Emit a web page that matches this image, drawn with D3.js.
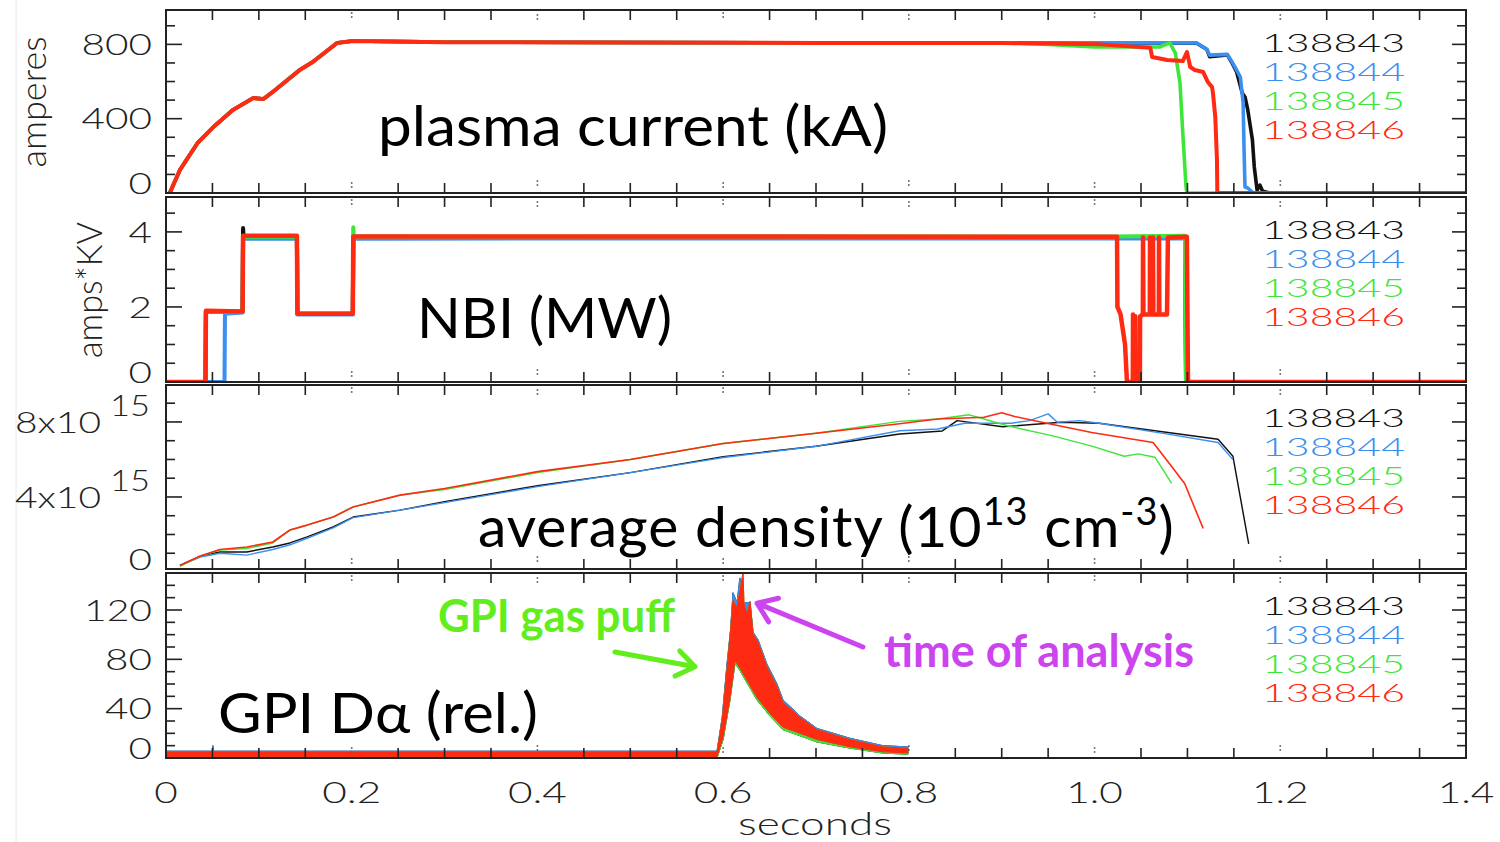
<!DOCTYPE html>
<html>
<head>
<meta charset="utf-8">
<script src="https://cdn.jsdelivr.net/npm/d3@7"></script>
<style>
  body { margin: 0; background: #fff; }
  svg { display: block; }
  .num { font-family: Lato, 'DejaVu Sans', sans-serif; font-weight: 300; font-size: 30px; }
  .big { font-family: Lato, 'Open Sans', sans-serif; font-size: 57px; fill: #000; }
  .note { font-family: Lato, 'Open Sans', sans-serif; font-weight: 700; font-size: 46px; }
</style>
</head>
<body>
<svg id="chart"></svg>
<script>
const shots = ['138843', '138844', '138845', '138846'];
const shotColors = ['#111111', '#3b8ff0', '#3ee63a', '#ff2a12'];

const xTicks = [0, 0.2, 0.4, 0.6, 0.8, 1.0, 1.2, 1.4];
const xTickLabels = ['0', '0.2', '0.4', '0.6', '0.8', '1.0', '1.2', '1.4'];

// plasma current [s, A-axis units]
const ipRamp = [[0.004,0],[0.015,124],[0.034,269],[0.051,355],[0.072,447],[0.094,511],[0.105,506],[0.115,544],
  [0.144,662],[0.158,705],[0.184,807],[0.201,818],[0.3,812],[0.5,810],[0.7,808],[0.9,808]];
const ipEnd843 = [[1.0,807],[1.11,806],[1.121,772],[1.124,733],[1.143,743],[1.148,700],[1.153,651],[1.159,538],
  [1.162,517],[1.165,447],[1.17,285],[1.172,140],[1.175,16],[1.178,43],[1.181,10],[1.189,0],[1.4,0]];
const ipEnd844 = [[1.0,808],[1.11,808],[1.121,772],[1.124,742],[1.143,746],[1.148,706],[1.153,662],[1.157,624],
  [1.16,484],[1.161,231],[1.162,32],[1.165,27],[1.171,0],[1.4,0]];
const ipEnd845 = [[0.95,800],[1.0,786],[1.07,786],[1.081,808],[1.087,753],[1.092,592],[1.095,323],[1.0985,32],
  [1.0995,0],[1.4,0]];
const ipEnd846 = [[1.006,800],[1.06,782],[1.062,732],[1.078,716],[1.095,710],[1.0995,759],[1.103,678],[1.108,662],
  [1.117,651],[1.122,597],[1.1265,570],[1.1275,538],[1.13,409],[1.1318,178],[1.1322,0],[1.4,0]];
const ipTicks = [0, 400, 800];

// NBI [s, amps*KV]
const nbiStart843 = [[0,0],[0.0425,0],[0.043,1.87],[0.0825,1.87],[0.083,4.1],[0.0835,3.87],[0.141,3.87],
  [0.1415,1.82],[0.2012,1.82],[0.2017,3.87]];
const nbiStart844 = [[0,0],[0.063,0],[0.0635,1.82],[0.0825,1.85],[0.083,3.82],[0.141,3.82],[0.1415,1.8],
  [0.2012,1.8],[0.2017,3.82]];
const nbiStart845 = [[0,0],[0.0425,0],[0.043,1.87],[0.0825,1.87],[0.083,3.87],[0.141,3.87],[0.1415,1.82],
  [0.2012,1.82],[0.2017,4.12],[0.2022,3.87]];
const nbiStart846 = [[0,0],[0.0425,0],[0.043,1.9],[0.0825,1.88],[0.083,3.9],[0.141,3.9],[0.1415,1.82],
  [0.2012,1.82],[0.2017,3.88]];
const nbiEnd843 = [[1.0974,3.85],[1.0985,0],[1.4,0]];
const nbiEnd844 = [[1.0974,3.83],[1.0985,0],[1.4,0]];
const nbiEnd845 = [[1.02,3.88],[1.0974,3.9],[1.0985,0],[1.4,0]];
const nbiEnd846 = [[1.0242,3.87],[1.0246,2.0],[1.028,1.8],[1.0328,1.0],[1.0349,0],[1.0412,0],[1.0414,1.8],
  [1.0418,0],[1.0436,0],[1.0438,1.75],[1.0442,0],[1.0488,0],[1.049,1.75],[1.052,1.8],[1.0522,3.85],
  [1.0526,1.8],[1.0595,1.8],[1.0597,3.85],[1.0601,1.8],[1.0627,1.8],[1.0629,3.85],[1.0633,1.8],
  [1.0692,1.8],[1.0694,3.85],[1.0698,1.8],[1.078,1.8],[1.079,3.85],[1.0994,3.87],[1.1006,0],[1.4,0]];
const nbiTicks = [0, 2, 4];

// line-average density [s, 1e15]
const ne843 = [[0.015,0.35],[0.037,0.85],[0.058,1.07],[0.087,1.07],[0.115,1.33],[0.1335,1.55],[0.152,1.87],
  [0.18,2.4],[0.2015,2.93],[0.252,3.3],[0.3,3.75],[0.4,4.6],[0.5,5.3],[0.6,6.15],[0.7,6.7],[0.79,7.36],
  [0.836,7.52],[0.852,8.07],[0.901,7.74],[0.964,7.98],[1.005,7.93],[1.079,7.44],[1.133,7.08],[1.149,6.17],[1.166,1.5]];
const ne844 = [[0.015,0.35],[0.037,0.8],[0.058,1.0],[0.087,0.9],[0.115,1.2],[0.1335,1.45],[0.152,1.8],
  [0.18,2.35],[0.2015,2.9],[0.252,3.3],[0.3,3.7],[0.4,4.55],[0.5,5.3],[0.6,6.1],[0.7,6.7],[0.79,7.53],
  [0.831,7.62],[0.86,7.93],[0.91,7.93],[0.93,8.07],[0.95,8.43],[0.96,7.98],[0.984,8.07],[1.005,7.93],
  [1.079,7.35],[1.133,6.9],[1.149,5.99]];
const ne845 = [[0.015,0.3],[0.037,0.85],[0.058,1.17],[0.087,1.25],[0.115,1.55],[0.1335,2.24],[0.152,2.5],
  [0.18,2.93],[0.2015,3.47],[0.252,4.1],[0.3,4.4],[0.4,5.3],[0.5,6.0],[0.6,6.85],[0.7,7.4],[0.79,8.03],
  [0.831,8.16],[0.865,8.38],[0.881,8.16],[0.906,7.8],[0.955,7.26],[0.997,6.71],[1.032,6.17],[1.047,6.3],
  [1.065,6.12],[1.083,4.72]];
const ne846 = [[0.015,0.35],[0.037,0.85],[0.058,1.2],[0.087,1.33],[0.115,1.6],[0.1335,2.24],[0.152,2.5],
  [0.18,2.93],[0.2015,3.47],[0.252,4.1],[0.3,4.45],[0.4,5.35],[0.5,6.0],[0.6,6.85],[0.7,7.4],[0.79,7.9],
  [0.831,8.16],[0.881,8.25],[0.9,8.49],[0.914,8.29],[0.951,7.9],[0.997,7.44],[1.063,6.9],[1.083,5.63],
  [1.097,4.72],[1.117,2.32]];
const neTicks = [0, 4, 8];

// GPI D-alpha envelopes [s, rel.]
const gpiOuterUpper = [[0,5.5],[0.05,5.5],[0.0505,10],[0.051,5.5],[0.5934,5.5],[0.599,33],[0.604,75],[0.608,104],
  [0.6106,134],[0.615,126],[0.618,146],[0.621,126],[0.629,126],[0.6322,102],[0.6375,96],[0.6472,76],[0.658,60],
  [0.6645,47],[0.6828,34],[0.701,24],[0.7366,16],[0.772,10],[0.799,9]];
const gpiOuterLower = [[0,0],[0.5934,0],[0.6,15],[0.6074,47],[0.6128,77],[0.618,71],[0.6257,61],[0.6365,47],
  [0.6505,34],[0.6645,23],[0.701,13],[0.7366,8],[0.772,4],[0.799,3]];
const gpiRedUpper = [[0,5],[0.5934,5],[0.599,31],[0.604,71],[0.6074,98],[0.6106,128],[0.6149,122],[0.6214,150],
  [0.6225,125],[0.6257,117],[0.629,127],[0.6322,101],[0.6375,94],[0.6472,74],[0.658,58],[0.6645,45],
  [0.6828,33],[0.701,23],[0.7366,15],[0.772,9],[0.799,8]];
const gpiRedLower = [[0,1],[0.5934,1],[0.6,17],[0.6074,49],[0.6128,79],[0.618,73],[0.6257,63],[0.6365,49],
  [0.6505,36],[0.6645,25],[0.701,15],[0.7366,9],[0.772,5],[0.799,4]];
const gpiTicks = [0, 40, 80, 120];

// annotation arrows in data units of the GPI panel [s, rel.]
const puffArrow = [[0.4835, 86], [0.5697, 74]];
const analysisArrow = [[0.7505, 90], [0.6365, 125.5]];

const width = 1500, height = 842;
const svg = d3.select('#chart').attr('width', width).attr('height', height);

const x = d3.scaleLinear().domain([0, 1.4]).range([166, 1466]);

const panels = [
  { top: 10, bottom: 193, domain: [0, 985], major: ipTicks, minor: 100, kind: 'line', sw: 4,
    series: [ipRamp.concat(ipEnd843), ipRamp.concat(ipEnd844), ipRamp.concat(ipEnd845), ipRamp.concat(ipEnd846)] },
  { top: 197, bottom: 382, domain: [0, 4.93], major: nbiTicks, minor: 0.5, kind: 'line', sw: 4.5,
    series: [nbiStart843.concat(nbiEnd843), nbiStart844.concat(nbiEnd844),
             nbiStart845.concat(nbiEnd845), nbiStart846.concat(nbiEnd846)] },
  { top: 385, bottom: 569, domain: [0.16, 9.97], major: neTicks, minor: 1, kind: 'line', sw: 1.6, sup: '15',
    series: [ne843, ne844, ne845, ne846] },
  { top: 573, bottom: 758, domain: [0, 150], major: gpiTicks, minor: 10, kind: 'band',
    series: [[gpiOuterUpper, gpiOuterLower], [gpiOuterUpper, gpiRedLower],
             [gpiRedUpper, gpiOuterLower], [gpiRedUpper, gpiRedLower]] }
];

// Hershey-like widths for the thin IDL numbers
function numWidth(s) {
  let w = 0;
  for (const c of s) w += c === '.' ? 12 : c === 'x' ? 18 : c === '1' ? 21 : 23.5;
  return w;
}

// faint edge of the pasted picture
svg.append('line').attr('x1', 16).attr('x2', 16).attr('y1', 0).attr('y2', height)
  .attr('stroke', '#eeeeee').attr('stroke-width', 1.5);

panels.forEach((p, pi) => {
  const y = d3.scaleLinear().domain(p.domain).range([p.bottom, p.top]);
  const g = svg.append('g');
  const clipId = 'clip' + pi;
  svg.append('clipPath').attr('id', clipId).append('rect')
    .attr('x', x(0)).attr('y', p.top).attr('width', x(1.4) - x(0)).attr('height', p.bottom - p.top);

  const plot = g.append('g').attr('clip-path', `url(#${clipId})`);
  const line = d3.line().x(d => x(d[0])).y(d => y(d[1]));

  p.series.forEach((s, i) => {
    if (p.kind === 'band') {
      const pts = s[0].concat(s[1].slice().reverse());
      plot.append('path').attr('d', line(pts) + 'Z')
        .attr('fill', shotColors[i]).attr('stroke', shotColors[i]).attr('stroke-width', 1)
        .attr('stroke-linejoin', 'round');
    } else {
      plot.append('path').attr('d', line(s))
        .attr('fill', 'none').attr('stroke', shotColors[i])
        .attr('stroke-width', i === 3 ? p.sw : p.sw * 0.9)
        .attr('stroke-linejoin', 'round');
    }
  });

  // x ticks every 0.05 on top and bottom, dotted marks at the 0.2 grid
  const xMinor = d3.range(1, 28).map(k => k * 0.05).filter(v => Math.round(v * 100) % 20 !== 0);
  xMinor.forEach(v => {
    g.append('line').attr('x1', x(v)).attr('x2', x(v)).attr('y1', p.top).attr('y2', p.top + 10)
      .attr('stroke', '#222').attr('stroke-width', 1.6);
    g.append('line').attr('x1', x(v)).attr('x2', x(v)).attr('y1', p.bottom).attr('y2', p.bottom - 10)
      .attr('stroke', '#222').attr('stroke-width', 1.6);
  });
  xTicks.slice(1, -1).forEach((v, k) => {
    const off = k % 2 === 0 ? 3 : 5;
    [p.top + off, p.top + off + 4, p.bottom - off - 7, p.bottom - off - 3].forEach(cy => {
      g.append('rect').attr('x', x(v) - 0.8).attr('y', cy - 0.8).attr('width', 1.6).attr('height', 1.6)
        .attr('fill', '#555');
    });
  });

  // y ticks both sides
  const yMinor = d3.range(0, p.domain[1] + 1e-9, p.minor).filter(v => v >= p.domain[0] && v <= p.domain[1]);
  yMinor.forEach(v => {
    const isMajor = p.major.some(m => Math.abs(m - v) < 1e-9);
    const len = isMajor ? 16 : 9;
    if (v === 0 && p.domain[0] === 0) return;
    g.append('line').attr('x1', x(0)).attr('x2', x(0) + len).attr('y1', y(v)).attr('y2', y(v))
      .attr('stroke', '#222').attr('stroke-width', 1.6);
    g.append('line').attr('x1', x(1.4)).attr('x2', x(1.4) - (isMajor ? 14 : 9)).attr('y1', y(v)).attr('y2', y(v))
      .attr('stroke', '#222').attr('stroke-width', 1.6);
  });

  // y tick labels
  p.major.forEach(v => {
    const cy = Math.min(y(v), p.bottom - 10);
    if (p.sup && v !== 0) {
      const base = v + 'x10';
      g.append('text').attr('class', 'num').attr('x', 101).attr('y', cy).attr('dy', '0.36em')
        .attr('text-anchor', 'end').attr('textLength', numWidth(base)).attr('lengthAdjust', 'spacingAndGlyphs')
        .attr('fill', '#222').text(base);
      g.append('text').attr('class', 'num').attr('x', 110).attr('y', cy - 17).attr('dy', '0.36em')
        .attr('textLength', 40).attr('lengthAdjust', 'spacingAndGlyphs')
        .attr('fill', '#222').text(p.sup);
    } else {
      const s = String(v);
      g.append('text').attr('class', 'num').attr('x', 152).attr('y', cy).attr('dy', '0.36em')
        .attr('text-anchor', 'end').attr('textLength', numWidth(s)).attr('lengthAdjust', 'spacingAndGlyphs')
        .attr('fill', '#222').text(s);
    }
  });

  // frame
  g.append('rect').attr('x', x(0)).attr('y', p.top).attr('width', x(1.4) - x(0)).attr('height', p.bottom - p.top)
    .attr('fill', 'none').attr('stroke', '#222').attr('stroke-width', 2);

  // shot legend
  shots.forEach((s, i) => {
    g.append('text').attr('class', 'num').attr('x', 1262).attr('y', p.top + 42 + 29 * i)
      .style('font-size', '26px')
      .attr('textLength', 143).attr('lengthAdjust', 'spacingAndGlyphs')
      .attr('fill', shotColors[i]).text(s);
  });
});

// clip the left edge like the pasted original
svg.append('rect').attr('x', 0).attr('y', 0).attr('width', 15.2).attr('height', height).attr('fill', '#fff');

// x tick labels and title
xTicks.forEach((v, i) => {
  svg.append('text').attr('class', 'num').attr('x', x(v)).attr('y', 803).attr('text-anchor', 'middle')
    .attr('textLength', numWidth(xTickLabels[i])).attr('lengthAdjust', 'spacingAndGlyphs')
    .attr('fill', '#222').text(xTickLabels[i]);
});
svg.append('text').attr('class', 'num').attr('x', 815).attr('y', 835).attr('text-anchor', 'middle')
  .style('font-size', '31px').attr('textLength', 154).attr('lengthAdjust', 'spacingAndGlyphs')
  .attr('fill', '#222').text('seconds');

// y titles
svg.append('text').attr('class', 'num').attr('transform', 'translate(46,102) rotate(-90)')
  .attr('text-anchor', 'middle').style('font-size', '36px')
  .attr('textLength', 131).attr('lengthAdjust', 'spacingAndGlyphs').attr('fill', '#222').text('amperes');
svg.append('text').attr('class', 'num').attr('transform', 'translate(102,290) rotate(-90)')
  .attr('text-anchor', 'middle').style('font-size', '36px')
  .attr('textLength', 136).attr('lengthAdjust', 'spacingAndGlyphs').attr('fill', '#222').text('amps*KV');

// big labels
svg.append('text').attr('class', 'big').attr('x', 378).attr('y', 146)
  .attr('textLength', 510).attr('lengthAdjust', 'spacingAndGlyphs').text('plasma current (kA)');
svg.append('text').attr('class', 'big').attr('x', 417).attr('y', 338)
  .attr('textLength', 255).attr('lengthAdjust', 'spacingAndGlyphs').text('NBI (MW)');
const dens = svg.append('text').attr('class', 'big').attr('x', 478).attr('y', 547)
  .style('letter-spacing', '1px');
dens.append('tspan').text('average density (10');
dens.append('tspan').attr('dy', -22).style('font-size', '38px').text('13');
dens.append('tspan').attr('dy', 22).text(' cm');
dens.append('tspan').attr('dy', -22).style('font-size', '38px').text('-3');
dens.append('tspan').attr('dy', 22).text(')');
svg.append('text').attr('class', 'big').attr('x', 218).attr('y', 733)
  .attr('textLength', 320).attr('lengthAdjust', 'spacingAndGlyphs').text('GPI D\u03b1 (rel.)');

// annotations
const yGpi = d3.scaleLinear().domain(panels[3].domain).range([panels[3].bottom, panels[3].top]);
svg.append('text').attr('class', 'note').attr('x', 438).attr('y', 632).attr('fill', '#62ee1c')
  .attr('textLength', 237).attr('lengthAdjust', 'spacingAndGlyphs').text('GPI gas puff');
svg.append('text').attr('class', 'note').attr('x', 884).attr('y', 667).attr('fill', '#cc44f0')
  .attr('textLength', 310).attr('lengthAdjust', 'spacingAndGlyphs').text('time of analysis');

function arrow(pts, color) {
  const [a, b] = pts.map(d => [x(d[0]), yGpi(d[1])]);
  const ang = Math.atan2(b[1] - a[1], b[0] - a[0]);
  const head = 22, spread = 0.62;
  const w1 = [b[0] - head * Math.cos(ang - spread), b[1] - head * Math.sin(ang - spread)];
  const w2 = [b[0] - head * Math.cos(ang + spread), b[1] - head * Math.sin(ang + spread)];
  svg.append('path').attr('d', `M${a}L${b}M${w1}L${b}L${w2}`)
    .attr('fill', 'none').attr('stroke', color).attr('stroke-width', 5)
    .attr('stroke-linecap', 'round').attr('stroke-linejoin', 'round');
}
arrow(puffArrow, '#62ee1c');
arrow(analysisArrow, '#cc44f0');
</script>
</body>
</html>
